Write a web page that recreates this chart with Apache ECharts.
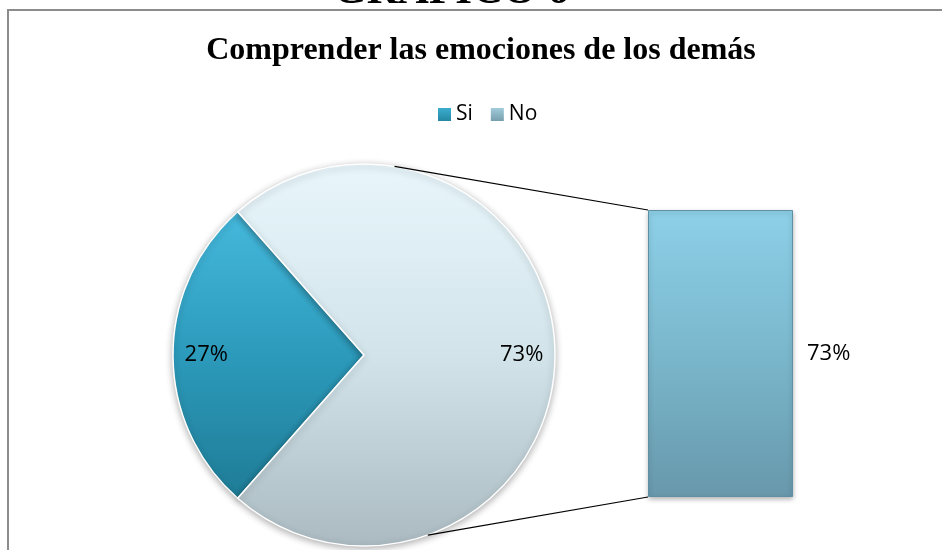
<!DOCTYPE html>
<html>
<head>
<meta charset="utf-8">
<script src="https://cdn.jsdelivr.net/npm/echarts@6/dist/echarts.min.js"></script>
<style>
html,body{margin:0;padding:0;background:#fff;}
#c{width:942px;height:550px;}
</style>
</head>
<body>
<div id="c"></div>
<script>
const categories = ['Si', 'No'];
const percentValues = [27, 73];
const barCategories = ['No'];
const barValues = [73];
const chartTitle = 'Comprender las emociones de los demás';
const headerText = 'GRAFICO 6';

const pieCenter = [364, 355];
const pieRadius = 191;
const startAngle = 180 + percentValues[0] * 3.6 / 2;

const grad = (stops) => new echarts.graphic.LinearGradient(0, 0, 0, 1,
  stops.map((c, i) => ({offset: i / (stops.length - 1), color: c})));

const sliceColors = [
  grad(['#45b9dc', '#2c9abb', '#1f7c96']),
  grad(['#e8f6fb', '#d2e4ea', '#abbac1'])
];
const legendColors = [grad(['#3fb3d6', '#21829c']), grad(['#a9d3e2', '#6f97a6'])];

const chart = echarts.init(document.getElementById('c'), null, {renderer: 'canvas'});

const pieData = categories.map((n, i) => ({name: n, value: percentValues[i], itemStyle: {color: sliceColors[i]}}));
const labelData = categories.map((n, i) => ({name: n, value: percentValues[i]}));

chart.setOption({
  animation: false,
  backgroundColor: '#ffffff',
  title: {
    text: chartTitle,
    left: 476,
    textAlign: 'center',
    top: 30,
    textStyle: {fontFamily: 'Liberation Serif', fontWeight: 'bold', fontSize: 32, color: '#000'}
  },
  legend: {
    data: categories.map((n, i) => ({name: n, itemStyle: {color: legendColors[i]}})),
    left: 431,
    top: 99,
    itemWidth: 15,
    itemHeight: 15,
    itemGap: 16,
    icon: 'rect',
    textStyle: {fontFamily: 'Open Sans', fontSize: 21, color: '#000', padding: [0, 0, 0, -1]}
  },
  grid: {left: 648, right: 149, top: 210, bottom: 53},
  xAxis: {type: 'category', data: barCategories, show: false},
  yAxis: {type: 'value', min: 0, max: barValues[0], show: false},
  series: [
    {
      type: 'pie',
      name: 'pie',
      center: pieCenter,
      radius: pieRadius,
      startAngle: startAngle,
      clockwise: true,
      label: {show: false},
      labelLine: {show: false},
      itemStyle: {borderColor: '#ffffff', borderWidth: 1.5, shadowColor: 'rgba(0,0,0,0.3)', shadowBlur: 7, shadowOffsetY: 2},
      emphasis: {disabled: true},
      data: pieData
    },
    {
      type: 'pie',
      name: 'labels',
      center: pieCenter,
      radius: pieRadius * 1.62,
      startAngle: startAngle,
      clockwise: true,
      silent: true,
      legendHoverLink: false,
      itemStyle: {color: 'rgba(0,0,0,0)'},
      label: {show: true, position: 'inside', formatter: '{c}%', fontFamily: 'Open Sans', fontSize: 22, color: '#000'},
      labelLine: {show: false},
      emphasis: {disabled: true},
      data: labelData
    },
    {
      type: 'bar',
      name: 'bar',
      data: barValues,
      barWidth: '100%',
      itemStyle: {
        color: grad(['#8dd0e8', '#7ab7cc', '#6898ab']),
        borderColor: '#5f8fa2',
        borderWidth: 1,
        shadowColor: 'rgba(0,0,0,0.3)', shadowBlur: 5, shadowOffsetY: 2
      },
      label: {show: true, position: 'right', distance: 14, formatter: '{c}%', fontFamily: 'Open Sans', fontSize: 22, color: '#000'},
      emphasis: {disabled: true}
    }
  ]
});

const topAngle = 80.8 * Math.PI / 180;
const botAngle = -70.5 * Math.PI / 180;
const pTop = [pieCenter[0] + pieRadius * Math.cos(topAngle), pieCenter[1] - pieRadius * Math.sin(topAngle)];
const pBot = [pieCenter[0] + pieRadius * Math.cos(botAngle), pieCenter[1] - pieRadius * Math.sin(botAngle)];
const barTop = chart.convertToPixel({gridIndex: 0}, [0, barValues[0]]);
const barBot = chart.convertToPixel({gridIndex: 0}, [0, 0]);
const barLeft = 648;

chart.setOption({
  graphic: [
    {type: 'rect', shape: {x: 8, y: 10, width: 1100, height: 700}, style: {fill: 'none', stroke: '#8c8c8c', lineWidth: 2}, silent: true, z: 0},
    {type: 'text', x: 451, y: -30, style: {text: headerText, fontFamily: 'Liberation Serif', fontWeight: 'bold', fontSize: 43, fill: '#000', align: 'center', verticalAlign: 'top'}, silent: true, z: 10},
    {type: 'line', shape: {x1: pTop[0], y1: pTop[1], x2: barLeft, y2: barTop[1]}, style: {stroke: '#000', lineWidth: 1.2}, silent: true, z: 10},
    {type: 'line', shape: {x1: pBot[0], y1: pBot[1], x2: barLeft, y2: barBot[1]}, style: {stroke: '#000', lineWidth: 1.2}, silent: true, z: 10}
  ]
});
</script>
</body>
</html>
